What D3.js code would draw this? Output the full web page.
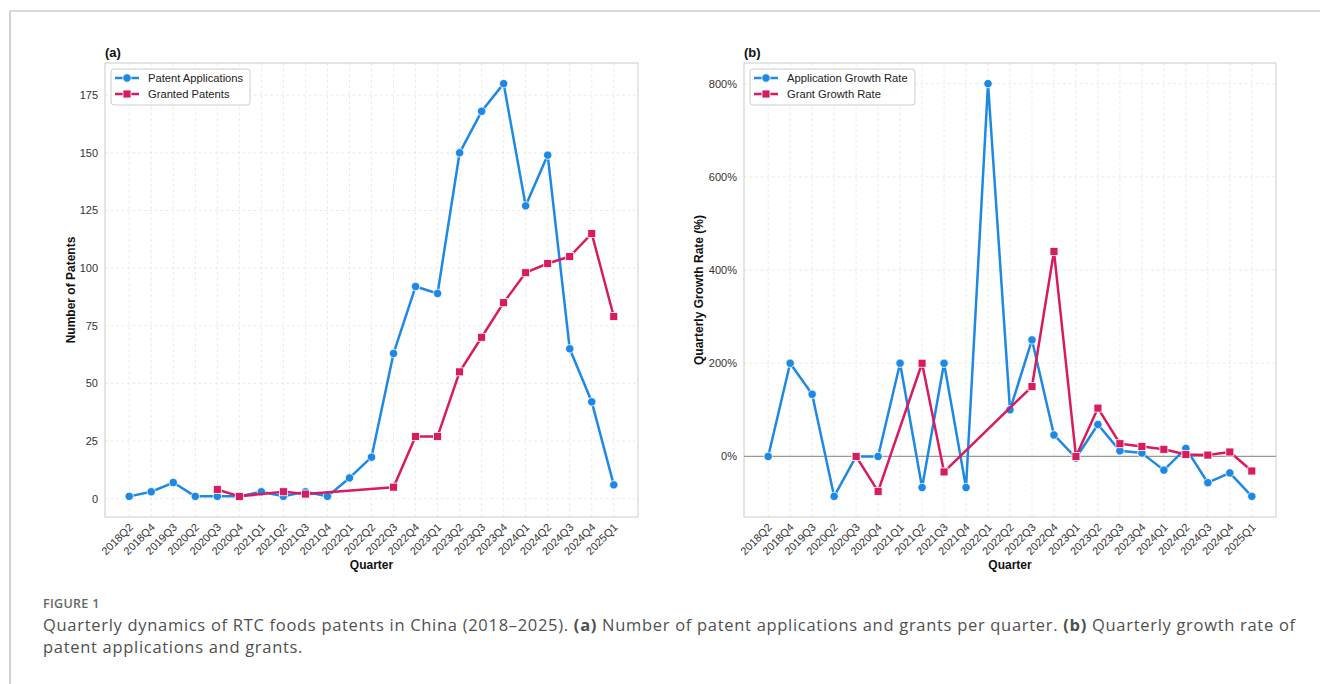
<!DOCTYPE html>
<html>
<head>
<meta charset="utf-8">
<script src="https://cdn.jsdelivr.net/npm/d3@7"></script>
<style>
  html, body { margin: 0; padding: 0; background: #fff; }
  svg { display: block; }
</style>
</head>
<body>
<svg id="fig" width="1320" height="684"></svg>
<script>
// Quarters with recorded activity
const quarters = ["2018Q2","2018Q4","2019Q3","2020Q2","2020Q3","2020Q4","2021Q1","2021Q2",
  "2021Q3","2021Q4","2022Q1","2022Q2","2022Q3","2022Q4","2023Q1","2023Q2","2023Q3",
  "2023Q4","2024Q1","2024Q2","2024Q3","2024Q4","2025Q1"];

// Patent counts per quarter (null = no grants recorded that quarter)
const applications = [1,3,7,1,1,1,3,1,3,1,9,18,63,92,89,150,168,180,127,149,65,42,6];
const granted = [null,null,null,null,4,1,null,3,2,null,null,null,5,27,27,55,70,85,98,102,105,115,79];

// Quarter-on-quarter growth rates, in percent
const applicationGrowth = [0,200,133.3,-85.7,0,0,200,-66.7,200,-66.7,800,100,250,46.0,-3.3,68.5,12.0,7.1,-29.4,17.3,-56.4,-35.4,-85.7];
const grantGrowth = [null,null,null,null,0,-75,null,200,-33.3,null,null,null,150,440,0,103.7,27.3,21.4,15.3,4.1,2.9,9.5,-31.3];

// Axis ticks
const countTicks = [0,25,50,75,100,125,150,175];
const growthTicks = [0,200,400,600,800];

const BLUE = "#1e88e5", RED = "#d81b60";
const FONT = "'Liberation Sans', Arial, Helvetica, sans-serif";

const svg = d3.select("#fig");

// Outer frame lines (top and left)
svg.append("line").attr("x1", 10).attr("x2", 1320).attr("y1", 11).attr("y2", 11)
  .attr("stroke", "#b3b3b3").attr("stroke-width", 1.2);
svg.append("line").attr("x1", 10).attr("x2", 10).attr("y1", 11).attr("y2", 684)
  .attr("stroke", "#b3b3b3").attr("stroke-width", 1.2);

function panel(cfg) {
  const { left, right, top, bottom } = cfg;
  const g = svg.append("g");

  const x = d3.scalePoint().domain(quarters).range([left, right]).padding(1.1);
  const y = d3.scaleLinear().domain(cfg.yDomain).range([bottom, top]);

  // Grid
  const grid = g.append("g");
  grid.selectAll(".vg").data(quarters).join("line")
    .attr("x1", d => x(d)).attr("x2", d => x(d)).attr("y1", top).attr("y2", bottom)
    .attr("stroke", "#e6e6e6").attr("stroke-width", 0.8).attr("stroke-dasharray", "3,2.5");
  grid.selectAll(".hg").data(cfg.ticks).join("line")
    .attr("x1", left).attr("x2", right).attr("y1", d => y(d)).attr("y2", d => y(d))
    .attr("stroke", "#e6e6e6").attr("stroke-width", 0.8).attr("stroke-dasharray", "3,2.5");

  // Frame
  g.append("rect").attr("x", left).attr("y", top).attr("width", right - left).attr("height", bottom - top)
    .attr("fill", "none").attr("stroke", "#cccccc").attr("stroke-width", 1);

  // Y axis
  const yAxis = d3.axisLeft(y).tickValues(cfg.ticks).tickSize(0).tickPadding(7).tickFormat(cfg.tickFormat);
  const ya = g.append("g").attr("transform", `translate(${left},0)`).call(yAxis);
  ya.select(".domain").remove();
  ya.selectAll("text").attr("font-family", FONT).attr("font-size", 11).attr("fill", "#333");

  // X axis with rotated labels
  const xAxis = d3.axisBottom(x).tickSize(0).tickPadding(0);
  const xa = g.append("g").attr("transform", `translate(0,${bottom})`).call(xAxis);
  xa.select(".domain").remove();
  xa.selectAll("text")
    .attr("font-family", FONT).attr("font-size", 11).attr("fill", "#333")
    .attr("text-anchor", "end").attr("dy", 0)
    .attr("transform", "translate(4,11) rotate(-45)")
    .attr("y", 0).attr("x", 0);

  // Zero reference line
  if (cfg.zeroLine) {
    g.append("line").attr("x1", left).attr("x2", right).attr("y1", y(0)).attr("y2", y(0))
      .attr("stroke", "#999").attr("stroke-width", 1.4);
  }

  // Series
  cfg.series.forEach(s => {
    const pts = quarters.map((q, i) => ({ q, v: s.values[i] })).filter(d => d.v !== null);
    const line = d3.line().x(d => x(d.q)).y(d => y(d.v));
    g.append("path").datum(pts).attr("d", line)
      .attr("fill", "none").attr("stroke", s.color).attr("stroke-width", 2.5)
      .attr("stroke-linejoin", "round");
    if (s.marker === "circle") {
      g.selectAll(null).data(pts).join("circle")
        .attr("cx", d => x(d.q)).attr("cy", d => y(d.v)).attr("r", 4.2)
        .attr("fill", s.color).attr("stroke", "#fff").attr("stroke-width", 0.8);
    } else {
      g.selectAll(null).data(pts).join("rect")
        .attr("x", d => x(d.q) - 4).attr("y", d => y(d.v) - 4).attr("width", 8).attr("height", 8)
        .attr("fill", s.color).attr("stroke", "#fff").attr("stroke-width", 0.8);
    }
  });

  // Legend
  const lg = g.append("g").attr("transform", `translate(${left + 6},${top + 6})`);
  lg.append("rect").attr("width", cfg.legendWidth).attr("height", 36).attr("rx", 3)
    .attr("fill", "rgba(255,255,255,0.85)").attr("stroke", "#cccccc").attr("stroke-width", 1);
  cfg.series.forEach((s, i) => {
    const cy = 9 + i * 16;
    lg.append("line").attr("x1", 4).attr("x2", 28).attr("y1", cy).attr("y2", cy)
      .attr("stroke", s.color).attr("stroke-width", 2.5);
    if (s.marker === "circle") {
      lg.append("circle").attr("cx", 16).attr("cy", cy).attr("r", 4.2)
        .attr("fill", s.color).attr("stroke", "#fff").attr("stroke-width", 0.8);
    } else {
      lg.append("rect").attr("x", 12).attr("y", cy - 4).attr("width", 8).attr("height", 8)
        .attr("fill", s.color).attr("stroke", "#fff").attr("stroke-width", 0.8);
    }
    lg.append("text").attr("x", 37).attr("y", cy + 4)
      .attr("font-family", FONT).attr("font-size", 11.2).attr("fill", "#222").text(s.name);
  });

  // Panel tag
  g.append("text").attr("x", left).attr("y", top - 6)
    .attr("font-family", FONT).attr("font-size", 13).attr("font-weight", "bold").attr("fill", "#111")
    .text(cfg.tag);

  // Axis titles
  g.append("text").attr("x", (left + right) / 2).attr("y", bottom + 52)
    .attr("text-anchor", "middle").attr("font-family", FONT).attr("font-size", 12)
    .attr("font-weight", "bold").attr("fill", "#111").text("Quarter");
  g.append("text")
    .attr("transform", `translate(${cfg.yTitleX},${(top + bottom) / 2}) rotate(-90)`)
    .attr("text-anchor", "middle").attr("font-family", FONT).attr("font-size", 12)
    .attr("font-weight", "bold").attr("fill", "#111").text(cfg.yTitle);
}

panel({
  left: 105, right: 638, top: 63, bottom: 517,
  yDomain: [-7.95, 188.95], ticks: countTicks, tickFormat: d3.format("d"),
  tag: "(a)", yTitle: "Number of Patents", yTitleX: 75, legendWidth: 139,
  series: [
    { name: "Patent Applications", values: applications, color: BLUE, marker: "circle" },
    { name: "Granted Patents", values: granted, color: RED, marker: "square" }
  ]
});

panel({
  left: 744, right: 1276, top: 63, bottom: 517,
  yDomain: [-130.0, 844.3], ticks: growthTicks, tickFormat: d => d + "%",
  tag: "(b)", yTitle: "Quarterly Growth Rate (%)", yTitleX: 703, legendWidth: 165, zeroLine: true,
  series: [
    { name: "Application Growth Rate", values: applicationGrowth, color: BLUE, marker: "circle" },
    { name: "Grant Growth Rate", values: grantGrowth, color: RED, marker: "square" }
  ]
});

// Caption
const CAP = "'Open Sans', Lato, sans-serif";
svg.append("text").attr("x", 43).attr("y", 608)
  .attr("font-family", CAP).attr("font-size", 12.5).attr("font-weight", 600).attr("fill", "#666")
  .attr("letter-spacing", 0.3).text("FIGURE 1");
const cap1 = svg.append("text").attr("x", 43).attr("y", 631)
  .attr("font-family", CAP).attr("font-size", 16.5).attr("letter-spacing", 0.7).attr("fill", "#505050");
cap1.append("tspan").text("Quarterly dynamics of RTC foods patents in China (2018\u20132025). ");
cap1.append("tspan").attr("font-weight", "bold").text("(a)");
cap1.append("tspan").text(" Number of patent applications and grants per quarter. ");
cap1.append("tspan").attr("font-weight", "bold").text("(b)");
cap1.append("tspan").text(" Quarterly growth rate of");
svg.append("text").attr("x", 43).attr("y", 653)
  .attr("font-family", CAP).attr("font-size", 16.5).attr("letter-spacing", 0.7).attr("fill", "#505050")
  .text("patent applications and grants.");
</script>
</body>
</html>
